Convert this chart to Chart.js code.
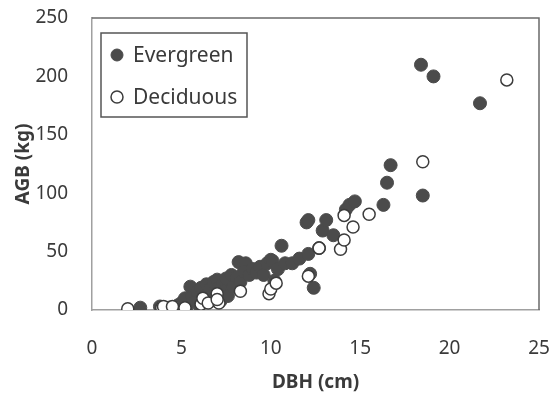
<!DOCTYPE html>
<html>
<head>
<meta charset="utf-8">
<script src="https://cdn.jsdelivr.net/npm/chart.js@4/dist/chart.umd.min.js"></script>
<style>
  html, body { margin: 0; padding: 0; background: #fff; }
</style>
</head>
<body>
<canvas id="grafico" width="556" height="396"></canvas>
<script>
// valores (DBH en cm, AGB en kg)
var everDBH = [2.7, 3.8, 4.3, 4.8, 5.0, 5.2, 5.3, 5.5, 5.6, 5.8, 5.9, 6.0, 6.1, 6.3, 6.4, 6.5, 6.6, 6.8, 6.9, 7.0,
               7.1, 7.2, 7.3, 7.4, 7.5, 7.6, 7.8, 7.9, 8.1, 8.2, 8.3, 8.6, 8.5, 8.8, 9.0, 9.2, 9.4, 9.6, 9.8, 10.0,
               10.1, 10.2, 10.4, 10.6, 10.8, 11.2, 11.6, 12.0, 12.1, 12.2, 12.4, 12.1, 12.7, 12.9, 13.1, 13.5, 14.2, 14.4, 14.7, 16.3,
               16.5, 16.7, 18.5, 18.4, 19.1, 21.7];
var everAGB = [2, 3, 2, 4, 6, 10, 3, 20, 12, 8, 16, 4, 19, 12, 22, 7, 18, 24, 11, 26,
               19, 8, 22, 16, 27, 12, 30, 20, 28, 41, 24, 40, 33, 30, 35, 32, 37, 30, 40, 43,
               42, 25, 35, 55, 40, 40, 44, 75, 48, 31, 19, 77, 53, 68, 77, 64, 86, 90, 93, 90,
               109, 124, 98, 210, 200, 177];
var deciDBH = [2.0, 3.9, 4.0, 4.5, 5.2, 6.1, 6.2, 6.5, 7.0, 7.1, 7.0, 8.3, 9.9, 10.0, 10.3, 12.1, 12.7, 13.9, 14.1, 14.1,
               14.6, 15.5, 18.5, 23.2];
var deciAGB = [1, 2, 3, 3, 2, 5, 10, 6, 14, 6, 9, 16, 14, 18, 23, 29, 53, 52, 60, 81,
               71, 82, 127, 197];
var xTicks = [0, 5, 10, 15, 20, 25];
var yTicks = [0, 50, 100, 150, 200, 250];

function puntos(xs, ys) {
    return xs.map(function (x, i) { return { x: x, y: ys[i] }; });
}

var oscuro = '#4b4b4b';

// marco del area y leyenda con recuadro
var marco = {
    id: 'marco',
    afterDraw: function (chart) {
        var c = chart.ctx;
        var a = chart.chartArea;
        c.save();
        c.strokeStyle = '#6a6a6a';
        c.lineWidth = 1.5;
        c.beginPath();
        c.moveTo(a.left, a.top);
        c.lineTo(a.right, a.top);
        c.lineTo(a.right, a.bottom);
        c.stroke();

        // leyenda
        c.strokeStyle = '#555';
        c.lineWidth = 1.5;
        c.strokeRect(101, 33, 146, 84);
        c.font = '21px "Noto Sans"';
        c.fillStyle = '#3a3a3a';
        c.textBaseline = 'middle';
        chart.data.datasets.forEach(function (ds, i) {
            var cy = 55 + i * 42;
            c.beginPath();
            c.arc(117, cy, 6, 0, Math.PI * 2);
            c.fillStyle = ds.backgroundColor;
            c.fill();
            c.strokeStyle = ds.borderColor;
            c.lineWidth = ds.borderWidth;
            c.stroke();
            c.fillStyle = '#3a3a3a';
            c.fillText(ds.label, 133, cy + 1);
        });
        c.restore();
    }
};

var ctx = document.getElementById('grafico');
var grafico = new Chart(ctx, {
    type: 'scatter',
    data: {
        datasets: [
            {
                label: 'Evergreen',
                data: puntos(everDBH, everAGB),
                backgroundColor: oscuro,
                borderColor: oscuro,
                borderWidth: 1,
                pointRadius: 6.5,
                order: 1
            },
            {
                label: 'Deciduous',
                data: puntos(deciDBH, deciAGB),
                backgroundColor: '#ffffff',
                borderColor: '#3c3c3c',
                borderWidth: 1.5,
                pointRadius: 6,
                order: 0
            }
        ]
    },
    plugins: [marco],
    options: {
        responsive: false,
        animation: false,
        devicePixelRatio: 1,
        layout: { padding: { left: 0, right: 17, top: 18, bottom: 0 } },
        plugins: {
            legend: { display: false },
            tooltip: { enabled: false }
        },
        scales: {
            x: {
                type: 'linear',
                min: 0,
                max: 25,
                afterFit: function (s) { s.height = 86; s.paddingLeft = 0; s.paddingRight = 0; },
                afterBuildTicks: function (s) { s.ticks = xTicks.map(function (v) { return { value: v }; }); },
                grid: { display: false, drawTicks: false },
                border: { color: '#a0a0a0', width: 1.5 },
                ticks: { padding: 27, color: '#3a3a3a', font: { family: 'Noto Sans', size: 19 } },
                title: {
                    display: true,
                    text: 'DBH (cm)',
                    color: '#3a3a3a',
                    font: { family: 'Noto Sans', size: 19, weight: 'bold' },
                    padding: { top: 0, bottom: 2 }
                }
            },
            y: {
                type: 'linear',
                min: 0,
                max: 250,
                afterFit: function (s) { s.width = 92; s.paddingTop = 0; s.paddingBottom = 0; },
                afterBuildTicks: function (s) { s.ticks = yTicks.map(function (v) { return { value: v }; }); },
                grid: { display: false, drawTicks: false },
                border: { color: '#a0a0a0', width: 1.5 },
                ticks: { padding: 24, color: '#3a3a3a', font: { family: 'Noto Sans', size: 19 } },
                title: {
                    display: true,
                    text: 'AGB (kg)',
                    color: '#3a3a3a',
                    font: { family: 'Noto Sans', size: 19, weight: 'bold' },
                    padding: { top: 12, bottom: 0 }
                }
            }
        }
    }
});
</script>
</body>
</html>
